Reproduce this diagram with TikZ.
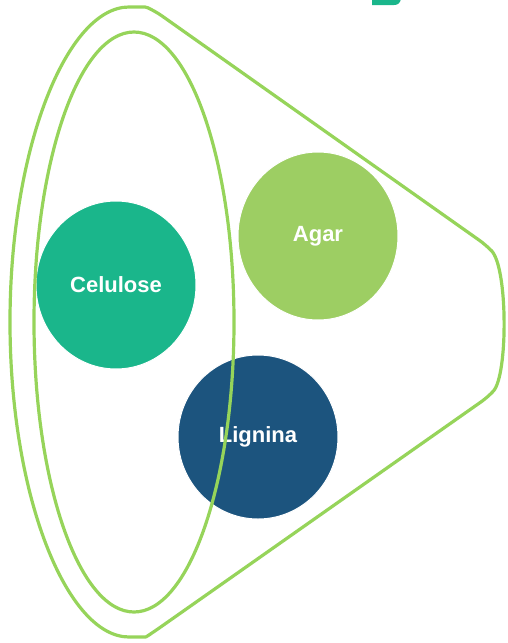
\documentclass[tikz,border=0pt]{standalone}
\usepackage{fontspec}
\setmainfont{Liberation Sans}
\usetikzlibrary{shapes.geometric}
\definecolor{celcolor}{RGB}{26,182,139}
\definecolor{agarcolor}{RGB}{157,206,99}
\definecolor{ligcolor}{RGB}{28,84,126}
\definecolor{linecolor}{RGB}{150,212,90}

\begin{document}
\begin{tikzpicture}
    [x=1pt, y=-1pt,
    blob/.style={ellipse, minimum width=160pt, minimum height=168pt, inner sep=0pt,
        draw=white, line width=1pt, text=white, font=\bfseries\fontsize{22}{22}\selectfont},
    outline/.style={draw=linecolor, line width=3.2pt}]
    \useasboundingbox (0,0) rectangle (508,643);
    \fill [celcolor] (372,-1) -- (372,5) -- (394,5) .. controls (398,5) and (400,3) .. (401,-1) -- cycle;
    \node [blob, fill=celcolor] (cel) at (116,285) {Celulose};
    \node [blob, fill=agarcolor] (agar) at (318,236) {Agar};
    \node [blob, fill=ligcolor, minimum height=164pt] (lig) at (258,437) {Lignina};
    \draw [outline] (134,322) ellipse [x radius=100, y radius=290];
    \draw [outline, rounded corners=8pt] (155,11) .. controls (146,7) .. (137,7)
        arc [start angle=270, end angle=90, x radius=127, y radius=315]
        .. controls (146,637) .. (155,631) -- (488,397)
        .. controls (508,375) and (508,268) .. (486,245) -- cycle;
\end{tikzpicture}
\end{document}
